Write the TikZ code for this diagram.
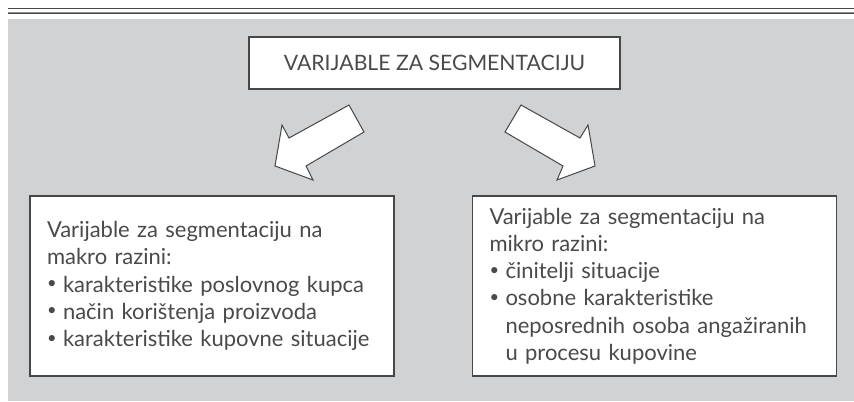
\documentclass[tikz,border=0pt]{standalone}
\usepackage{fontspec}
\setmainfont{Lato}
\usepackage{tikz}
\usetikzlibrary{positioning}
\definecolor{PanelGray}{HTML}{D1D2D4}
\definecolor{RuleDark}{HTML}{474747}
\definecolor{RuleGray}{HTML}{8E8E8E}
\definecolor{TextInk}{HTML}{4A4A4A}
\newcommand{\stavka}[1]{\par\noindent
  \makebox[8pt][l]{\raisebox{0.3ex}{\scalebox{0.75}{\textbullet}}}#1}
\newcommand{\dalje}{\\\hspace*{8pt}}

\begin{document}
\begin{tikzpicture}[x=0.5pt, y=-0.5pt,
  box/.style={draw=RuleDark, line width=0.6pt, fill=white, text=TextInk},
  listbox/.style={box, align=left, inner xsep=8.5pt, inner ysep=0pt,
                  text width=165pt, minimum height=90pt,
                  font=\fontsize{11}{13.6}\selectfont},
  pointer/.style={draw=RuleDark, line width=0.5pt, fill=white}]
  \useasboundingbox (0,0) rectangle (854,401);
  % panel and rules
  \fill[PanelGray] (8,19) rectangle (854,401);
  \draw[RuleDark, line width=0.6pt] (8,8.5) -- (854,8.5);
  \draw[RuleGray, line width=0.6pt] (8,12.6) -- (854,12.6);
  \draw[RuleDark, line width=0.5pt] (8,13.6) -- (854,13.6);
  % title
  \node[box, minimum width=185.5pt, minimum height=26pt, inner sep=0pt,
        font=\fontsize{10.6}{14}\selectfont] (naslov) at (434.5,63)
    {VARIJABLE ZA SEGMENTACIJU};
  % two levels
  \node[listbox] (makro) at (212,286) {%
    Varijable za segmentaciju na\\makro razini:
    \stavka{karakteristike poslovnog kupca}
    \stavka{način korištenja proizvoda}
    \stavka{karakteristike kupovne situacije}};
  \node[listbox] (mikro) at (654.5,286) {%
    Varijable za segmentaciju na\\mikro razini:
    \stavka{činitelji situacije}
    \stavka{osobne karakteristike\dalje neposrednih osoba angažiranih\dalje u procesu kupovine}};
  % block arrows
  \draw[pointer] (349,105) -- (364,132) -- (306,166) -- (313,180)
    -- (275,166) -- (282,125) -- (289,138) -- cycle;
  \draw[pointer] (521,105) -- (505,132) -- (563,166) -- (557,180)
    -- (595,166) -- (588,125) -- (580,138) -- cycle;
\end{tikzpicture}
\end{document}
